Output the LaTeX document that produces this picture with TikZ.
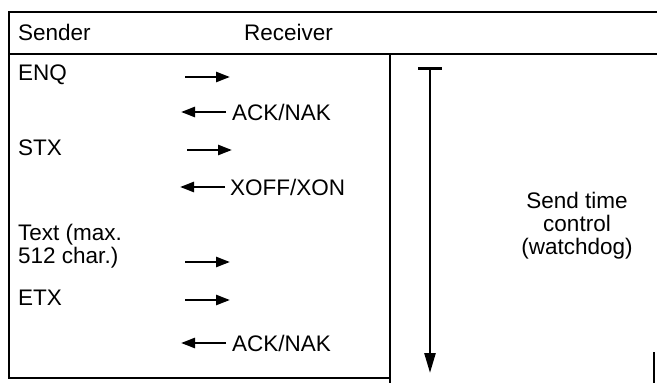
\documentclass[tikz,border=0pt]{standalone}
\usepackage{fontspec}
\setmainfont{Liberation Sans}
\usetikzlibrary{positioning,arrows.meta}

\begin{document}
\begin{tikzpicture}[
      x=1pt, y=-1pt,
      every node/.style={font=\fontsize{22.5}{23}\selectfont, inner sep=0pt},
      lbl/.style={anchor=west, align=left},
      frame/.style={line width=2.4pt},
      msg/.style={line width=2.6pt, -{Triangle[length=14pt,width=10pt]}},
      wdog/.style={line width=2.6pt, {Bar[width=24pt]}-{Triangle[length=20pt,width=11pt]}},
    ]
    \useasboundingbox (0,0) rectangle (657,383);

    % Frame
    \coordinate (tl) at (9,12);
    \coordinate (tr) at (657,12);
    \coordinate (hl) at (9,54);
    \coordinate (hr) at (657,54);
    \coordinate (dtop) at (390,54);
    \coordinate (dbot) at (390,383);
    \coordinate (bl) at (9,378);
    \coordinate (br) at (390,378);
    \coordinate (rtop) at (654,352);
    \coordinate (rbot) at (654,383);
    \draw[frame] (tr) -- (tl) -- (bl) -- (br);
    \draw[frame] (hl) -- (hr);
    \draw[frame] (dtop) -- (dbot);
    \draw[frame] (rtop) -- (rbot);

    % Header
    \node[lbl] (sender) at (18,32) {Sender};
    \node[lbl] (receiver) at (244,32) {Receiver};

    % Sender side
    \node[lbl] (enq) at (18,75) {ENQ};
    \node[lbl] (stx) at (18,148) {STX};
    \node[lbl] (text) at (18,246) {Text (max.\\512 char.)};
    \node[lbl] (etx) at (18,298) {ETX};

    % Receiver side
    \node[lbl] (ack1) at (232,112) {ACK/NAK};
    \node[lbl] (xoff) at (230,187) {XOFF/XON};
    \node[lbl] (ack2) at (232,343) {ACK/NAK};

    % Arrows
    \coordinate (a1s) at (185,77);  \coordinate (a1e) at (230,77);
    \coordinate (a2s) at (226,112); \coordinate (a2e) at (181,112);
    \coordinate (a3s) at (187,150); \coordinate (a3e) at (232,150);
    \coordinate (a4s) at (225,187); \coordinate (a4e) at (180,187);
    \coordinate (a5s) at (185,262); \coordinate (a5e) at (230,262);
    \coordinate (a6s) at (185,300); \coordinate (a6e) at (230,300);
    \coordinate (a7s) at (226,343); \coordinate (a7e) at (181,343);
    \draw[msg] (a1s) -- (a1e);
    \draw[msg] (a2s) -- (a2e);
    \draw[msg] (a3s) -- (a3e);
    \draw[msg] (a4s) -- (a4e);
    \draw[msg] (a5s) -- (a5e);
    \draw[msg] (a6s) -- (a6e);
    \draw[msg] (a7s) -- (a7e);

    % Watchdog
    \coordinate (wtop) at (430,67);
    \coordinate (wbot) at (430,373);
    \draw[wdog] (wtop) -- (wbot);
    \node[align=center] (watch) at (577,226) {Send time\\control\\(watchdog)};
  \end{tikzpicture}
\end{document}
